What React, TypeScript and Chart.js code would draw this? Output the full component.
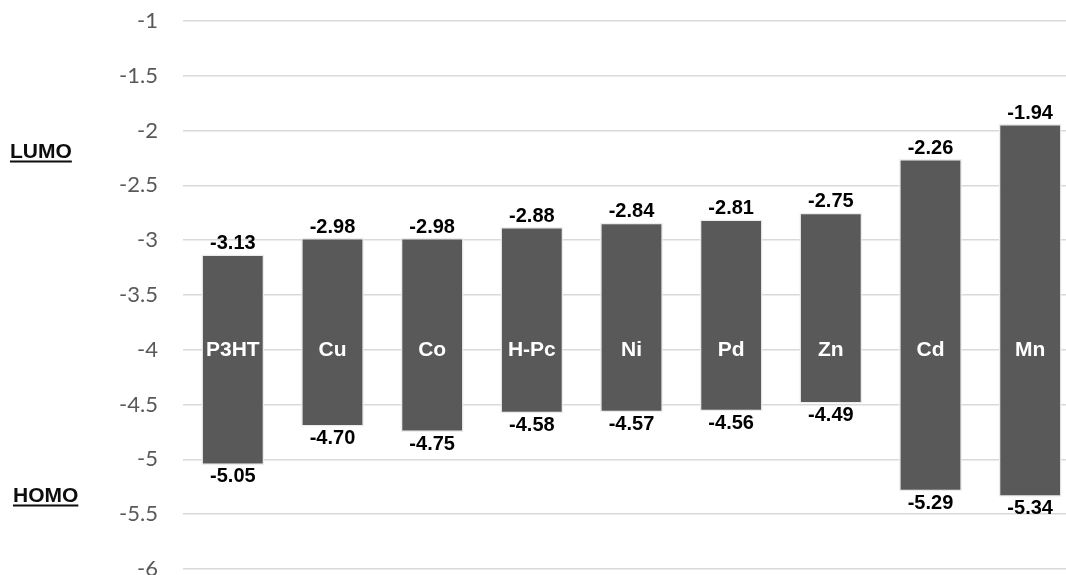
import React, { useEffect, useRef } from "react";
import { Chart, registerables } from "chart.js";

Chart.register(...registerables);

const categories = ["P3HT", "Cu", "Co", "H-Pc", "Ni", "Pd", "Zn", "Cd", "Mn"];
const lumo = [-3.13, -2.98, -2.98, -2.88, -2.84, -2.81, -2.75, -2.26, -1.94];
const homo = [-5.05, -4.7, -4.75, -4.58, -4.57, -4.56, -4.49, -5.29, -5.34];
const yMin = -6;
const yMax = -1;
const yStep = 0.5;
const nameLevel = -4;

const labelPlugin = {
  id: "levelLabels",
  afterDatasetsDraw(chart: any) {
    const ctx = chart.ctx;
    const xs = chart.scales.x;
    const ys = chart.scales.y;
    ctx.save();
    ctx.textAlign = "center";
    ctx.textBaseline = "middle";
    categories.forEach((name, i) => {
      const x = xs.getPixelForValue(i);
      const top = ys.getPixelForValue(lumo[i]);
      const bot = ys.getPixelForValue(homo[i]);
      ctx.font = "bold 20px 'Liberation Sans', Arial, sans-serif";
      ctx.fillStyle = "#000000";
      ctx.fillText(lumo[i].toFixed(2), x, top - 11);
      ctx.fillText(homo[i].toFixed(2), x, bot + 12);
      ctx.font = "bold 21px 'Liberation Sans', Arial, sans-serif";
      ctx.fillStyle = "#ffffff";
      ctx.fillText(name, x, ys.getPixelForValue(nameLevel));
    });
    // side labels
    ctx.textAlign = "left";
    ctx.textBaseline = "alphabetic";
    ctx.font = "bold 21px 'Liberation Sans', Arial, sans-serif";
    ctx.fillStyle = "#0d0d0d";
    const side = [
      { t: "LUMO", x: 10, y: 158 },
      { t: "HOMO", x: 13, y: 502 },
    ];
    side.forEach((s) => {
      ctx.fillText(s.t, s.x, s.y);
      const w = ctx.measureText(s.t).width;
      ctx.fillRect(s.x, s.y + 2.5, w, 2);
    });
    ctx.restore();
  },
};

export default function App() {
  const ref = useRef<HTMLCanvasElement | null>(null);
  useEffect(() => {
    if (!ref.current) return;
    const chart = new Chart(ref.current, {
      type: "bar",
      data: {
        labels: categories,
        datasets: [
          {
            data: lumo.map((l, i) => [homo[i], l]) as any,
            backgroundColor: "#595959",
            borderColor: "#ececec",
            borderWidth: 1.5,
            borderSkipped: false,
            barPercentage: 0.63,
            categoryPercentage: 1,
          },
        ],
      },
      options: {
        responsive: false,
        animation: false,
        devicePixelRatio: 1,
        layout: { padding: { left: 0, right: 0, top: 21, bottom: 6 } },
        plugins: {
          legend: { display: false },
          tooltip: { enabled: false },
        },
        scales: {
          x: { display: false },
          y: {
            min: yMin,
            max: yMax,
            border: { display: false },
            grid: { color: "#d9d9d9", lineWidth: 1.5, drawTicks: false },
            ticks: {
              stepSize: yStep,
              padding: 25,
              color: "#595959",
              font: { family: "Lato", size: 22 },
              callback: (v: any) => String(v),
            },
            afterFit: (scale: any) => {
              scale.width = 183;
              scale.paddingTop = 0;
              scale.paddingBottom = 0;
            },
          },
        },
      },
      plugins: [labelPlugin],
    });
    return () => chart.destroy();
  }, []);
  return (
    <div
      style={{
        position: "fixed",
        left: 0,
        top: 0,
        width: 1066,
        height: 575,
        overflow: "hidden",
        background: "#ffffff",
      }}
    >
      <canvas ref={ref} width={1080} height={575} style={{ display: "block" }} />
    </div>
  );
}
